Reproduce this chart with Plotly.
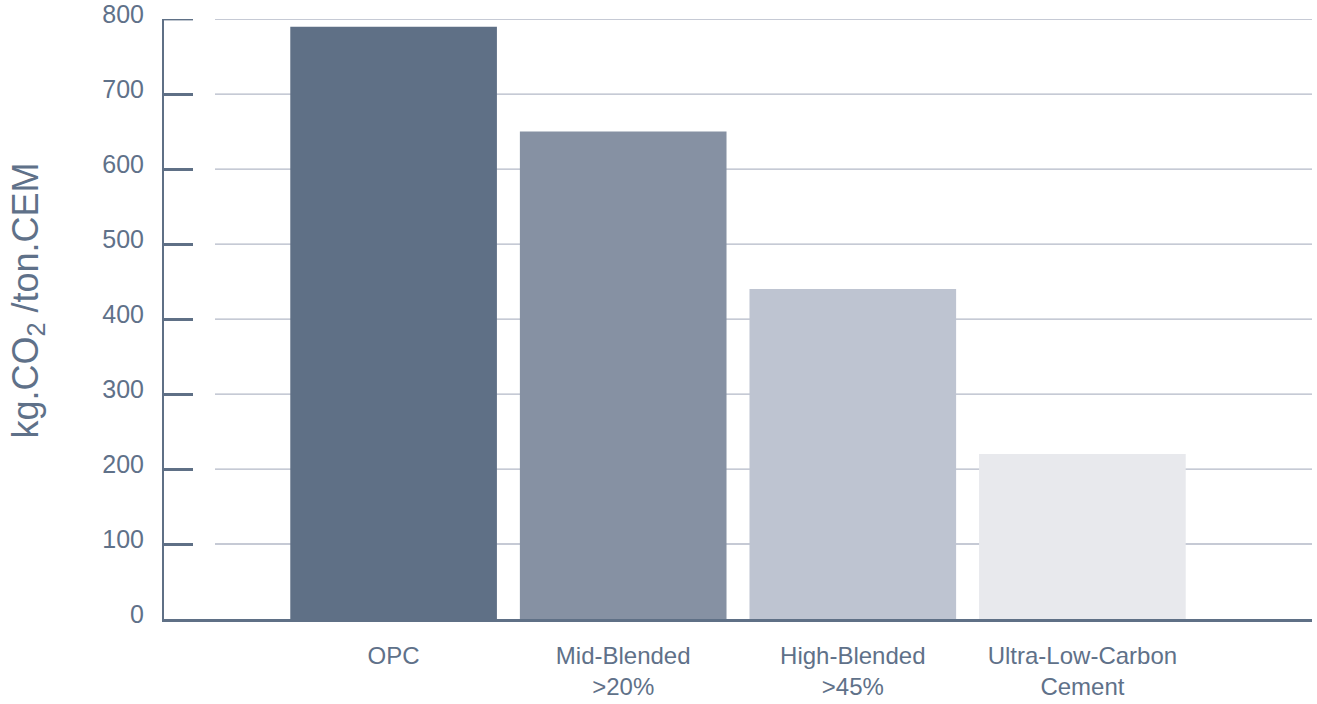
import plotly.graph_objects as go

categories = ["OPC", "Mid-Blended<br>&gt;20%", "High-Blended<br>&gt;45%", "Ultra-Low-Carbon<br>Cement"]
values = [790, 650, 440, 220]
bar_colors = ["#5f7086", "#8691a3", "#bec4d1", "#e8e9ed"]
y_ticks = [0, 100, 200, 300, 400, 500, 600, 700, 800]
y_title = "kg.CO<sub>2</sub> /ton.CEM"

TEXT = "#5f7189"
AXIS = "#5f7086"
GRID = "#b3b9c7"
FONT = "Liberation Sans, Arial, Helvetica, sans-serif"
PLOT_W = 1312 - 164

fig = go.Figure()
fig.add_trace(go.Bar(
    x=list(range(len(categories))),
    y=values,
    marker=dict(color=bar_colors, line=dict(width=0)),
    width=0.9,
    hoverinfo="skip",
))

# gridlines that start a little right of the tick marks
grid_x0 = (215 - 164) / PLOT_W
for v in y_ticks[1:]:
    fig.add_shape(type="line", xref="paper", yref="y", x0=grid_x0, x1=1,
                  y0=v, y1=v, line=dict(color=GRID, width=1.3), layer="below")

# plotly drops the inside tick at the very top of the range; draw it as a shape
fig.add_shape(type="line", xref="paper", yref="y", x0=0, x1=29 / PLOT_W,
              y0=y_ticks[-1], y1=y_ticks[-1], line=dict(color=AXIS, width=2.5),
              layer="above")

fig.add_annotation(text=y_title, xref="paper", yref="paper",
                   x=(27 - 164) / PLOT_W, y=(619.5 - 301) / 600,
                   xanchor="center", yanchor="middle", textangle=-90,
                   showarrow=False, font=dict(family=FONT, size=36, color=TEXT))

fig.update_layout(
    width=1317, height=704,
    margin=dict(l=164, r=5, t=19, b=85, autoexpand=False),
    paper_bgcolor="white", plot_bgcolor="white",
    showlegend=False,
    font=dict(family=FONT, color=TEXT),
    bargap=0.1,
)
fig.update_xaxes(
    range=[-1, 4], automargin=False,
    tickmode="array", tickvals=list(range(len(categories))), ticktext=categories,
    showgrid=False, zeroline=False,
    showline=True, linecolor=AXIS, linewidth=2.5,
    ticks="", tickfont=dict(family=FONT, size=24, color=TEXT),
    ticklabelstandoff=13,
)
fig.update_yaxes(
    range=[0, 800.2], automargin=False,
    tickmode="array", tickvals=y_ticks,
    showgrid=False, zeroline=False,
    showline=True, linecolor=AXIS, linewidth=2,
    ticks="inside", ticklen=29, tickwidth=2.5, tickcolor=AXIS,
    tickfont=dict(family=FONT, size=25, color=TEXT),
    ticklabelstandoff=13, ticklabelshift=-5,
    ticklabeloverflow="allow",
)

fig.write_html("out.html")
